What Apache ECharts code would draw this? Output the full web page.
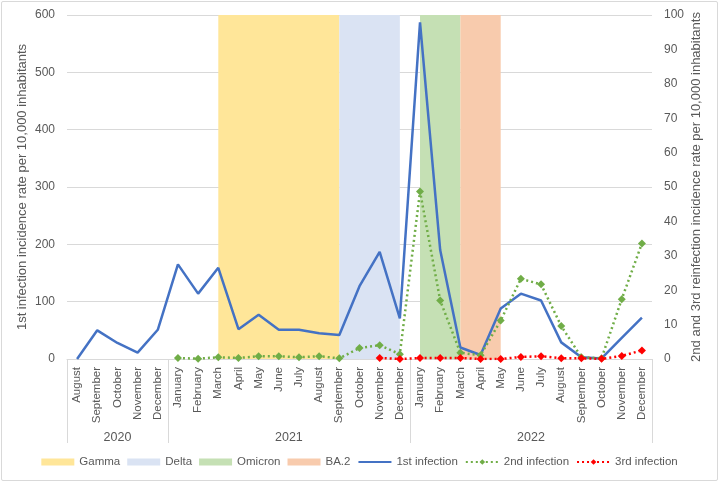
<!DOCTYPE html>
<html>
<head>
<meta charset="utf-8">
<script src="https://cdn.jsdelivr.net/npm/echarts@6/dist/echarts.min.js"></script>
<style>
html,body{margin:0;padding:0;background:#fff;}
#frame{position:absolute;left:1px;top:1px;width:715px;height:478px;border:1px solid #d9d9d9;border-radius:2px;}
#chart{position:absolute;left:0;top:0;width:719px;height:482px;}
</style>
</head>
<body>
<div id="frame"></div>
<div id="chart"></div>
<script>
// Categories (year-month keys) and display labels
const periods = ['2020-08','2020-09','2020-10','2020-11','2020-12',
  '2021-01','2021-02','2021-03','2021-04','2021-05','2021-06','2021-07','2021-08','2021-09','2021-10','2021-11','2021-12',
  '2022-01','2022-02','2022-03','2022-04','2022-05','2022-06','2022-07','2022-08','2022-09','2022-10','2022-11','2022-12'];
const monthNames = ['January','February','March','April','May','June','July','August','September','October','November','December'];
const years = ['2020','2021','2022'];
const yearMonthCounts = [5, 12, 12];

// Series values
const firstInfection = [0, 50, 28, 11, 51,
  165, 114, 159, 52, 77, 51, 51, 45, 42, 127, 187, 71,
  587, 190, 20, 7, 88, 114, 102, 29, 3, 1, 37, 72];
const secondInfection = [null, null, null, null, null,
  0.3, 0.1, 0.5, 0.3, 0.8, 0.8, 0.5, 0.8, 0.2, 3.2, 4.0, 1.4,
  48.7, 17.0, 1.8, 1.1, 11.2, 23.3, 21.7, 9.6, 0.5, 0.2, 17.4, 33.6];
const thirdInfection = [null, null, null, null, null,
  null, null, null, null, null, null, null, null, null, null, 0.3, 0,
  0.3, 0.3, 0.3, 0, 0, 0.6, 0.8, 0.2, 0.2, 0.05, 0.9, 2.5];

// Variant periods
const variantNames = ['Gamma', 'Delta', 'Omicron', 'BA.2'];
const variantStart = ['2021-03', '2021-09', '2022-01', '2022-03'];
const variantEnd = ['2021-09', '2021-12', '2022-03', '2022-05'];
const variantColors = ['#FFE699', '#DAE3F3', '#C5E0B4', '#F8CBAD'];

// Year group boundaries and centers
const yearBounds = [0];
yearMonthCounts.forEach(c => yearBounds.push(yearBounds[yearBounds.length - 1] + c));
const yearCenters = years.map((y, i) => (yearBounds[i] + yearBounds[i + 1]) / 2);

const FONT = 'Liberation Sans';
const TXT = '#595959';
const GRIDC = '#d9d9d9';

const chart = echarts.init(document.getElementById('chart'), null, {renderer: 'canvas'});

const variantSeries = variantNames.map((n, i) => ({
  name: n,
  type: 'line',
  data: [],
  color: variantColors[i],
  itemStyle: {color: variantColors[i]},
  lineStyle: {color: variantColors[i]},
  z: 1,
  silent: true,
  markArea: {
    silent: true,
    itemStyle: {color: variantColors[i], opacity: 1},
    label: {show: false},
    data: [[{xAxis: variantStart[i]}, {xAxis: variantEnd[i]}]]
  }
}));

const option = {
  animation: false,
  textStyle: {fontFamily: FONT},
  grid: {left: 67, right: 67, top: 15, bottom: 123, containLabel: false},
  legend: {
    bottom: 9,
    left: 'center',
    itemWidth: 33,
    itemHeight: 7,
    itemGap: 7,
    textStyle: {color: TXT, fontSize: 11.5, fontFamily: FONT},
    data: [
      {name: 'Gamma', icon: 'rect'},
      {name: 'Delta', icon: 'rect'},
      {name: 'Omicron', icon: 'rect'},
      {name: 'BA.2', icon: 'rect'},
      {name: '1st infection', itemStyle: {opacity: 0}},
      {name: '2nd infection'},
      {name: '3rd infection'}
    ]
  },
  xAxis: [
    {
      type: 'category',
      data: periods,
      boundaryGap: true,
      axisLine: {show: true, lineStyle: {color: GRIDC, width: 1}},
      axisTick: {show: false},
      axisLabel: {
        interval: 0,
        rotate: 90,
        margin: 8,
        color: TXT,
        fontSize: 11.5,
        fontFamily: FONT,
        formatter: v => monthNames[parseInt(v.split('-')[1], 10) - 1]
      },
      splitLine: {show: false}
    },
    {
      type: 'value',
      min: 0,
      max: periods.length,
      position: 'bottom',
      axisLine: {show: false},
      splitLine: {show: false},
      axisTick: {
        show: true,
        length: 84,
        customValues: yearBounds,
        lineStyle: {color: GRIDC, width: 1}
      },
      axisLabel: {
        show: true,
        margin: 72,
        color: TXT,
        fontSize: 12.5,
        fontFamily: FONT,
        customValues: yearCenters,
        formatter: v => {
          for (let i = 0; i < years.length; i++) {
            if (v >= yearBounds[i] && v < yearBounds[i + 1]) return years[i];
          }
          return '';
        }
      }
    }
  ],
  yAxis: [
    {
      type: 'value',
      min: 0,
      max: 600,
      interval: 100,
      name: '1st infection incidence rate per 10,000 inhabitants',
      nameLocation: 'middle',
      nameRotate: 90,
      nameGap: 38,
      nameMoveOverlap: false,
      nameTextStyle: {color: TXT, fontSize: 13, fontFamily: FONT},
      axisLine: {show: false},
      axisTick: {show: false},
      axisLabel: {color: TXT, fontSize: 12, margin: 12, fontFamily: FONT},
      splitLine: {show: true, lineStyle: {color: GRIDC, width: 1}}
    },
    {
      type: 'value',
      min: 0,
      max: 100,
      interval: 10,
      position: 'right',
      name: '2nd and 3rd reinfection incidence rate per 10,000 inhabitants',
      nameLocation: 'middle',
      nameRotate: 90,
      nameGap: 38,
      nameMoveOverlap: false,
      nameTextStyle: {color: TXT, fontSize: 13, fontFamily: FONT},
      axisLine: {show: false},
      axisTick: {show: false},
      axisLabel: {color: TXT, fontSize: 12, margin: 12, fontFamily: FONT},
      splitLine: {show: false}
    }
  ],
  series: variantSeries.concat([
    {
      name: '1st infection',
      type: 'line',
      yAxisIndex: 0,
      data: firstInfection,
      color: '#4472C4',
      symbol: 'none',
      lineStyle: {color: '#4472C4', width: 2.5},
      z: 5
    },
    {
      name: '2nd infection',
      type: 'line',
      yAxisIndex: 1,
      data: secondInfection,
      color: '#70AD47',
      symbol: 'diamond',
      symbolSize: 8,
      showSymbol: true,
      itemStyle: {color: '#70AD47'},
      lineStyle: {color: '#70AD47', width: 2.5, type: [2, 3]},
      z: 6
    },
    {
      name: '3rd infection',
      type: 'line',
      yAxisIndex: 1,
      data: thirdInfection,
      color: '#FF0000',
      symbol: 'diamond',
      symbolSize: 8,
      showSymbol: true,
      itemStyle: {color: '#FF0000'},
      lineStyle: {color: '#FF0000', width: 2.5, type: [2, 3]},
      z: 7
    }
  ])
};

chart.setOption(option);
</script>
</body>
</html>
